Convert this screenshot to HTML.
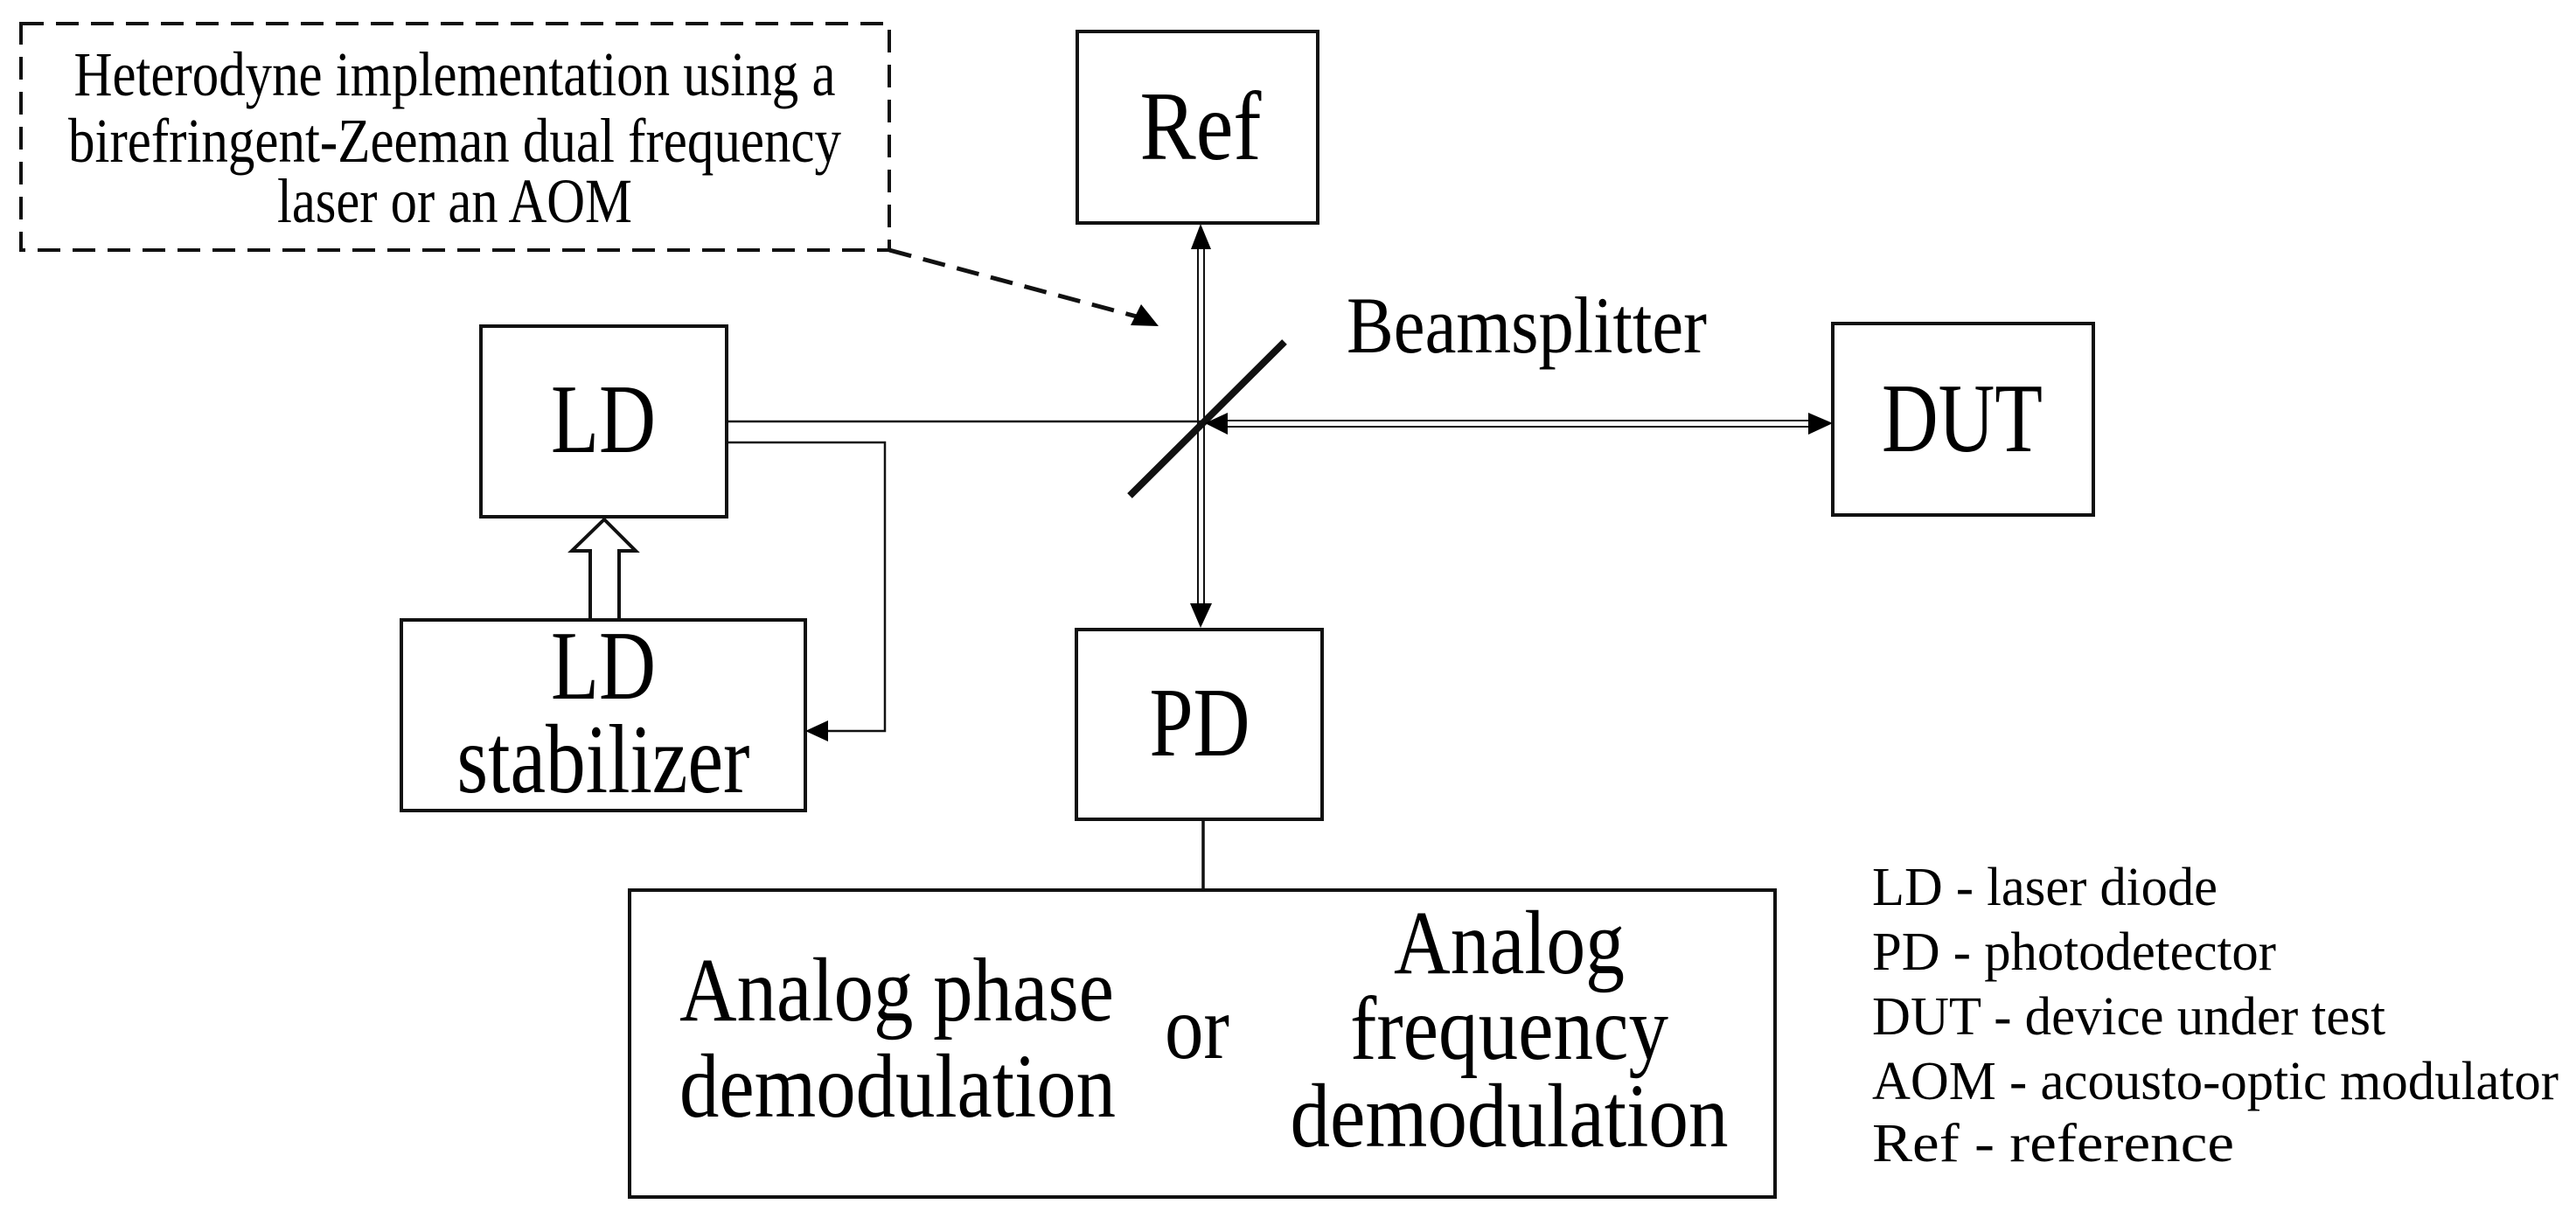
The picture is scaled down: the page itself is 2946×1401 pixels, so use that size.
<!DOCTYPE html>
<html><head><meta charset="utf-8"><style>html,body{margin:0;padding:0;background:#fff}svg{display:block}</style></head>
<body>
<svg width="2946" height="1401" viewBox="0 0 2946 1401" xmlns="http://www.w3.org/2000/svg" font-family="'Liberation Serif', serif" fill="#000">
<rect width="2946" height="1401" fill="#fff"/>
<g fill="none" stroke="#111">
<rect x="24" y="27" width="993" height="259" stroke-width="4" stroke-dasharray="26,14"/>
<line x1="1017" y1="286" x2="1300" y2="362" stroke-width="5" stroke-dasharray="26,14"/>
<rect x="1232" y="36" width="275" height="219" stroke-width="4"/>
<rect x="550" y="373" width="281" height="218" stroke-width="4"/>
<rect x="459" y="709" width="462" height="218" stroke-width="4"/>
<rect x="1231" y="720" width="281" height="217" stroke-width="4"/>
<rect x="2096" y="370" width="298" height="219" stroke-width="4"/>
<rect x="720" y="1018" width="1310" height="351" stroke-width="4"/>
<line x1="1370" y1="270" x2="1370" y2="700" stroke-width="2"/>
<line x1="1377" y1="270" x2="1377" y2="700" stroke-width="2"/>
<line x1="831" y1="482" x2="1380" y2="482" stroke-width="2.5"/>
<line x1="1390" y1="481" x2="2075" y2="481" stroke-width="2"/>
<line x1="1390" y1="488" x2="2075" y2="488" stroke-width="2"/>
<polyline points="831,506 1012,506 1012,836 945,836" stroke-width="2.5"/>
<line x1="1376" y1="937" x2="1376" y2="1018" stroke-width="3.5"/>
<line x1="1292" y1="567" x2="1469" y2="391" stroke-width="8"/>
<polygon points="675,709 675,630 654,630 691,594 727,630 708,630 708,709" stroke-width="4" fill="#fff"/>
</g>
<polygon points="1325,373 1293,372 1305,348"/>
<polygon points="1373,256 1362,285 1385,285"/>
<polygon points="1373,718 1361,690 1386,690"/>
<polygon points="2096,484 2068,472 2068,497"/>
<polygon points="1378,484 1404,472 1404,497"/>
<polygon points="921,836 947,824 947,848"/>
<g font-size="72" text-anchor="middle">
<text x="520" y="109" textLength="871" lengthAdjust="spacingAndGlyphs">Heterodyne implementation using a</text>
<text x="520" y="185" textLength="884" lengthAdjust="spacingAndGlyphs">birefringent-Zeeman dual frequency</text>
<text x="520" y="254" textLength="406" lengthAdjust="spacingAndGlyphs">laser or an AOM</text>
</g>
<g font-size="112" text-anchor="middle">
<text x="1373" y="182" textLength="139" lengthAdjust="spacingAndGlyphs">Ref</text>
<text x="690" y="517" textLength="120" lengthAdjust="spacingAndGlyphs">LD</text>
<text x="690" y="799" textLength="120" lengthAdjust="spacingAndGlyphs">LD</text>
<text x="690" y="906" textLength="335" lengthAdjust="spacingAndGlyphs">stabilizer</text>
<text x="1372" y="864" textLength="115" lengthAdjust="spacingAndGlyphs">PD</text>
<text x="2244" y="516" textLength="184" lengthAdjust="spacingAndGlyphs">DUT</text>
</g>
<text x="1540" y="403" font-size="92" textLength="412" lengthAdjust="spacingAndGlyphs">Beamsplitter</text>
<g font-size="104">
<text x="777" y="1167" textLength="497" lengthAdjust="spacingAndGlyphs">Analog phase</text>
<text x="777" y="1277" textLength="499" lengthAdjust="spacingAndGlyphs">demodulation</text>
<text x="1332" y="1210" textLength="74" lengthAdjust="spacingAndGlyphs">or</text>
</g>
<g font-size="104" text-anchor="middle">
<text x="1726" y="1113" textLength="264" lengthAdjust="spacingAndGlyphs">Analog</text>
<text x="1726" y="1211" textLength="364" lengthAdjust="spacingAndGlyphs">frequency</text>
<text x="1726" y="1311" textLength="501" lengthAdjust="spacingAndGlyphs">demodulation</text>
</g>
<g font-size="62">
<text x="2141" y="1035" textLength="395" lengthAdjust="spacingAndGlyphs">LD - laser diode</text>
<text x="2141" y="1109" textLength="462" lengthAdjust="spacingAndGlyphs">PD - photodetector</text>
<text x="2141" y="1183" textLength="587" lengthAdjust="spacingAndGlyphs">DUT - device under test</text>
<text x="2141" y="1257" textLength="785" lengthAdjust="spacingAndGlyphs">AOM - acousto-optic modulator</text>
<text x="2141" y="1328" textLength="414" lengthAdjust="spacingAndGlyphs">Ref - reference</text>
</g>
</svg>
</body></html>
